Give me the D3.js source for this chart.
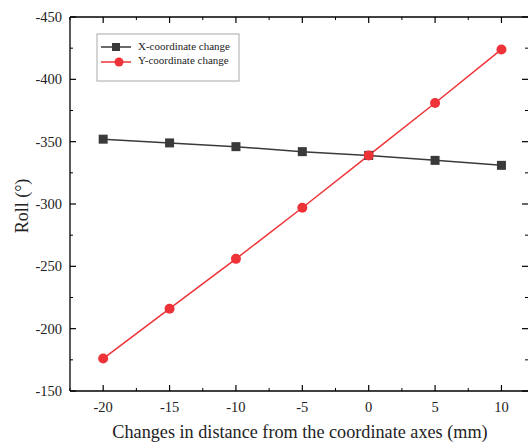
<!DOCTYPE html>
<html><head><meta charset="utf-8">
<script src="https://cdn.jsdelivr.net/npm/d3@7"></script>
<style>body{margin:0;background:#fff}svg{display:block}</style>
</head><body>
<svg id="c" width="528" height="446"></svg>
<script>
const xValues = [-20, -15, -10, -5, 0, 5, 10];
const xCoordChange = [-352, -349, -346, -342, -339, -335, -331];
const yCoordChange = [-176, -216, -256, -297, -339, -381, -424];
const xTicks = [-20, -15, -10, -5, 0, 5, 10];
const yTicks = [-450, -400, -350, -300, -250, -200, -150];
const seriesNames = ["X-coordinate change", "Y-coordinate change"];

const svg = d3.select("#c");
const L = 70, R = 528, T = 17, B = 391;
const font = "Liberation Serif, Times New Roman, serif";
const x = d3.scaleLinear().domain([-22.5, 12]).range([L, R]);
const y = d3.scaleLinear().domain([-150, -450]).range([B, T]);

const minorX = d3.range(-22.5, 12.01, 2.5).filter(v => !xTicks.includes(v));
const minorY = d3.range(-450, -149, 25).filter(v => !yTicks.includes(v));

// frame
const g = svg.append("g");
g.append("line").attr("x1", L).attr("x2", R).attr("y1", B).attr("y2", B).attr("stroke", "#000").attr("stroke-width", 1.3);
g.append("line").attr("x1", L).attr("x2", R).attr("y1", T).attr("y2", T).attr("stroke", "#000").attr("stroke-width", 1.3);
g.append("line").attr("x1", L).attr("x2", L).attr("y1", T).attr("y2", B).attr("stroke", "#000").attr("stroke-width", 1.3);

// bottom/top ticks
xTicks.forEach(v => {
  g.append("line").attr("x1", x(v)).attr("x2", x(v)).attr("y1", B).attr("y2", B - 6).attr("stroke", "#000").attr("stroke-width", 1.2);
  g.append("line").attr("x1", x(v)).attr("x2", x(v)).attr("y1", T).attr("y2", T + 6).attr("stroke", "#000").attr("stroke-width", 1.2);
  g.append("text").attr("x", x(v)).attr("y", B + 21).attr("text-anchor", "middle")
    .attr("font-family", font).attr("font-size", 14.5).attr("fill", "#222").text(v);
});
minorX.forEach(v => {
  g.append("line").attr("x1", x(v)).attr("x2", x(v)).attr("y1", B).attr("y2", B - 3).attr("stroke", "#000").attr("stroke-width", 1);
  g.append("line").attr("x1", x(v)).attr("x2", x(v)).attr("y1", T).attr("y2", T + 3).attr("stroke", "#000").attr("stroke-width", 1);
});
yTicks.forEach(v => {
  g.append("line").attr("x1", L).attr("x2", L + 6).attr("y1", y(v)).attr("y2", y(v)).attr("stroke", "#000").attr("stroke-width", 1.2);
  g.append("line").attr("x1", R).attr("x2", R - 6).attr("y1", y(v)).attr("y2", y(v)).attr("stroke", "#000").attr("stroke-width", 1.2);
  g.append("text").attr("x", L - 8).attr("y", y(v) + 5).attr("text-anchor", "end")
    .attr("font-family", font).attr("font-size", 14.5).attr("fill", "#222").text(v);
});
minorY.forEach(v => {
  g.append("line").attr("x1", L).attr("x2", L + 3).attr("y1", y(v)).attr("y2", y(v)).attr("stroke", "#000").attr("stroke-width", 1);
  g.append("line").attr("x1", R).attr("x2", R - 3).attr("y1", y(v)).attr("y2", y(v)).attr("stroke", "#000").attr("stroke-width", 1);
});

// titles
svg.append("text").attr("x", 300).attr("y", 438).attr("text-anchor", "middle")
  .attr("font-family", font).attr("font-size", 18.2).attr("fill", "#222")
  .text("Changes in distance from the coordinate axes (mm)");
svg.append("text").attr("transform", "translate(28,206) rotate(-90)").attr("text-anchor", "middle")
  .attr("font-family", font).attr("font-size", 18).attr("fill", "#222").text("Roll (°)");

// series
const colX = "#3a3a3a", colY = "#ee3338";
const line = d3.line().x((d, i) => x(xValues[i])).y(d => y(d));
svg.append("path").datum(xCoordChange).attr("d", line).attr("fill", "none").attr("stroke", colX).attr("stroke-width", 1.5);
svg.append("path").datum(yCoordChange).attr("d", line).attr("fill", "none").attr("stroke", colY).attr("stroke-width", 1.5);
svg.selectAll(".sq").data(xCoordChange).enter().append("rect")
  .attr("x", (d, i) => x(xValues[i]) - 4.5).attr("y", d => y(d) - 4.5).attr("width", 9).attr("height", 9).attr("fill", colX);
svg.selectAll(".ci").data(yCoordChange).enter().append("circle")
  .attr("cx", (d, i) => x(xValues[i])).attr("cy", d => y(d)).attr("r", 5).attr("fill", colY);

// legend
const lg = svg.append("g");
lg.append("rect").attr("x", 97).attr("y", 34).attr("width", 142).attr("height", 47).attr("fill", "#fff").attr("stroke", "#aaa").attr("stroke-width", 1);
lg.append("line").attr("x1", 101).attr("x2", 131).attr("y1", 47).attr("y2", 47).attr("stroke", colX).attr("stroke-width", 1.5);
lg.append("rect").attr("x", 112).attr("y", 43).attr("width", 8).attr("height", 8).attr("fill", colX);
lg.append("line").attr("x1", 101).attr("x2", 131).attr("y1", 62).attr("y2", 62).attr("stroke", colY).attr("stroke-width", 1.5);
lg.append("circle").attr("cx", 119).attr("cy", 62).attr("r", 4.5).attr("fill", colY);
lg.append("text").attr("x", 138).attr("y", 50).attr("font-family", font).attr("font-size", 11).attr("fill", "#222").text(seriesNames[0]);
lg.append("text").attr("x", 138).attr("y", 64).attr("font-family", font).attr("font-size", 11).attr("fill", "#222").text(seriesNames[1]);
</script>
</body></html>
